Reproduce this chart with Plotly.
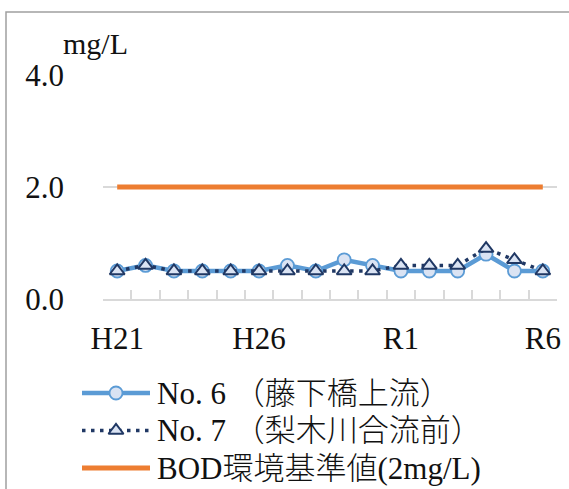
import plotly.graph_objects as go

# Survey years (Heisei 21 .. Reiwa 6)
years = ["H21", "H22", "H23", "H24", "H25", "H26", "H27", "H28", "H29", "H30",
         "R1", "R2", "R3", "R4", "R5", "R6"]
shown_labels = ["H21", "H26", "R1", "R6"]

# BOD annual values (mg/L)
no6_values = [0.5, 0.6, 0.5, 0.5, 0.5, 0.5, 0.6, 0.5, 0.7, 0.6, 0.5, 0.5, 0.5, 0.8, 0.5, 0.5]
no7_values = [0.5, 0.6, 0.5, 0.5, 0.5, 0.5, 0.5, 0.5, 0.5, 0.5, 0.6, 0.6, 0.6, 0.9, 0.7, 0.5]
standard_value = 2.0

series_names = ["No. 6 （藤下橋上流）", "No. 7 （梨木川合流前）", "BOD環境基準値(2mg/L)"]

W, H = 569, 489
FONT = "'Liberation Serif', 'Noto Sans CJK JP', serif"
BLUE = "#5B9BD5"
NAVY = "#203864"
ORANGE = "#ED7D31"
GRID = "#D9D9D9"
TEXT = "#111111"


def px_x(p):
    return p / W


def px_y(p):
    return 1 - p / H


no6_style = dict(
    line=dict(color=BLUE, width=4.5),
    marker=dict(symbol="circle", size=13, color="#DAE3F3", line=dict(color=BLUE, width=1.8)),
)
no7_style = dict(
    line=dict(color=NAVY, width=3.5, dash="3.5px,5.5px"),
    marker=dict(symbol="triangle-up", size=13, color="#DAE3F3", line=dict(color=NAVY, width=2)),
)
std_style = dict(line=dict(color=ORANGE, width=5))

fig = go.Figure()

fig.add_trace(go.Scatter(x=years, y=no6_values, mode="lines+markers", name=series_names[0],
                         showlegend=False, **no6_style))
fig.add_trace(go.Scatter(x=years, y=no7_values, mode="lines+markers", name=series_names[1],
                         showlegend=False, **no7_style))
fig.add_trace(go.Scatter(x=years, y=[standard_value] * len(years), mode="lines",
                         name=series_names[2], showlegend=False, **std_style))

# Hand-built legend: long sample lines on a helper axis pair
legend_rows = [1, 2, 3]
for row, style, symbol in zip(legend_rows, [no6_style, no7_style, std_style],
                              [True, True, False]):
    fig.add_trace(go.Scatter(x=[0, 1], y=[row, row], mode="lines", line=style["line"],
                             xaxis="x2", yaxis="y2", showlegend=False, hoverinfo="skip"))
    if symbol:
        fig.add_trace(go.Scatter(x=[0.5], y=[row], mode="markers", marker=style["marker"],
                                 xaxis="x2", yaxis="y2", showlegend=False, hoverinfo="skip"))

for row, name in zip(legend_rows, series_names):
    fig.add_annotation(text=name, xref="paper", x=px_x(155), yref="y2", y=row,
                       xanchor="left", yanchor="middle", showarrow=False,
                       font=dict(family=FONT, size=31, color=TEXT, weight=300))

# Unit label
fig.add_annotation(text="mg/L", xref="paper", x=px_x(61), yref="paper", y=px_y(43),
                   xanchor="left", yanchor="middle", showarrow=False,
                   font=dict(family=FONT, size=30, color=TEXT))

# Chart area border
fig.add_shape(type="rect", xref="paper", yref="paper",
              x0=px_x(6), x1=1.05, y0=-0.05, y1=px_y(12),
              line=dict(color="#A0A0A0", width=1.5), fillcolor="rgba(0,0,0,0)")

fig.update_layout(
    width=W, height=H,
    margin=dict(l=0, r=0, t=0, b=0, autoexpand=False),
    paper_bgcolor="white", plot_bgcolor="white",
    font=dict(family=FONT, size=31, color=TEXT),
    xaxis=dict(
        domain=[px_x(103), px_x(557)], automargin=False,
        type="category", categoryorder="array", categoryarray=years,
        tickmode="array", tickvals=years,
        ticktext=[y if y in shown_labels else "" for y in years],
        tickangle=0,
        tickson="boundaries", ticks="inside", ticklen=9, tickwidth=1.5, tickcolor=GRID,
        showline=True, linecolor=GRID, linewidth=2, showgrid=False, zeroline=False,
        range=[-0.5, len(years) - 0.5], fixedrange=True,
        tickfont=dict(family=FONT, size=31, color=TEXT),
        ticklabelstandoff=11,
    ),
    yaxis=dict(
        domain=[px_y(299), px_y(75)], automargin=False,
        range=[0, 4], dtick=2, tickformat=".1f",
        showgrid=True, gridcolor=GRID, gridwidth=2, zeroline=False, showline=False,
        ticks="", fixedrange=True,
        tickfont=dict(family=FONT, size=31, color=TEXT),
        ticklabelstandoff=38,
    ),
    xaxis2=dict(domain=[px_x(82), px_x(150)], range=[0, 1], visible=False, fixedrange=True,
                anchor="y2"),
    yaxis2=dict(domain=[px_y(486.75), px_y(374.25)], range=[3.5, 0.5], visible=False,
                fixedrange=True, anchor="x2"),
    showlegend=False,
)

fig.write_html("out.html")
